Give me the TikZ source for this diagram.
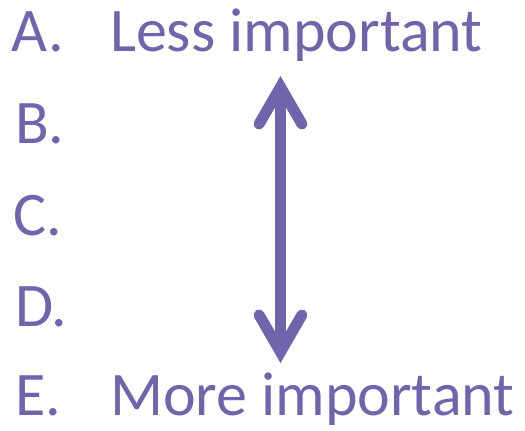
\documentclass[tikz,border=0pt]{standalone}
\usepackage{fontspec}
\setmainfont{Carlito}
\definecolor{lav}{RGB}{114,100,172}
\begin{document}
\begin{tikzpicture}[x=1pt,y=-1pt,
  lbl/.style={anchor=base west,inner sep=0pt,outer sep=0pt,text=lav,font=\fontsize{62}{62}\selectfont},
  shaft/.style={draw=lav,line width=11pt,line cap=butt},
  barb/.style={draw=lav,line width=11pt,line cap=round,line join=miter}]
\useasboundingbox (0,0) rectangle (525,431);
\node[lbl] (a) at (12,51) {A.};
\node[lbl] (b) at (15,143) {B.};
\node[lbl] (c) at (13,235) {C.};
\node[lbl] (d) at (15,326) {D.};
\node[lbl] (e) at (15,415) {E.};
\node[lbl] (less) at (110,51) {Less important};
\node[lbl] (more) at (110,415) {More important};
\coordinate (top) at (280.5,87);
\coordinate (bot) at (280.5,352);
\draw[shaft] (top) -- (bot);
\draw[barb] ([shift={(-21.4,37)}]top) -- (top) -- ([shift={(21.4,37)}]top);
\draw[barb] ([shift={(-21.4,-37)}]bot) -- (bot) -- ([shift={(21.4,-37)}]bot);
\end{tikzpicture}
\end{document}
